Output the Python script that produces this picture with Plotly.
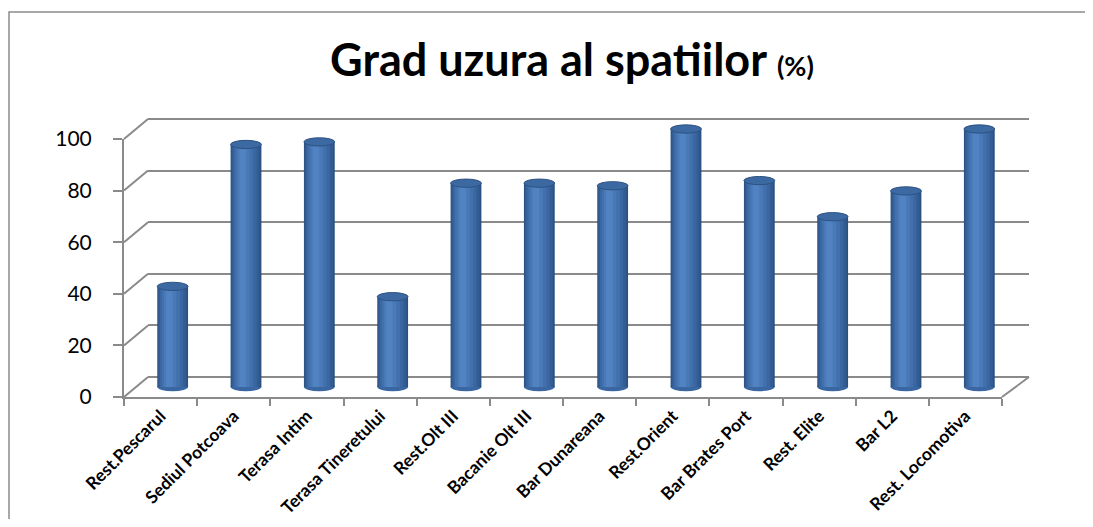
import plotly.graph_objects as go

categories = ["Rest.Pescarul", "Sediul Potcoava", "Terasa Intim", "Terasa Tineretului",
              "Rest.Olt III", "Bacanie Olt III", "Bar Dunareana", "Rest.Orient",
              "Bar Brates Port", "Rest. Elite", "Bar L2", "Rest. Locomotiva"]
values = [39, 94, 95, 35, 79, 79, 78, 100, 80, 66, 76, 100]
y_ticks = [0, 20, 40, 60, 80, 100]

# page body margin is 8px; figure sized so the page fits the window exactly
OX, OY = 8, 8
W, H = 1077, 511
PX100 = 258.0  # pixels per 100 units


def px(x):
    return (x - OX) / W


def py(y):
    return 1 - (y - OY) / H


def xd(a, b):
    return [px(a), px(b)]


def yd(p0, lo, hi):
    top = p0 - hi * PX100 / 100
    bot = p0 - lo * PX100 / 100
    return [py(bot), py(top)]


GRID = "#8a8a8a"
FONT = "Lato, Open Sans, sans-serif"
fig = go.Figure()

WALL_LO, WALL_HI = -1, 101
fig.add_trace(go.Scatter(x=[0, 1], y=[0, 0], mode="markers", marker=dict(opacity=0),
                         hoverinfo="skip", showlegend=False, xaxis="x", yaxis="y"))

BAR_LO, BAR_HI = -6, 106
n = len(categories)
idx = list(range(n))
# cylinder shading: stacked stripes (width, offset from category centre, colour)
layers = [(0.42, -0.21, "#2c5284"), (0.38, -0.195, "#335c93"),
          (0.32, -0.175, "#3a66a1"), (0.25, -0.15, "#4170ad"),
          (0.17, -0.12, "#4979b7"), (0.09, -0.09, "#5182c2")]
for w, off, col in layers:
    fig.add_trace(go.Bar(x=idx, y=values, width=w, offset=off,
                         marker=dict(color=col, line=dict(width=0)),
                         hoverinfo="skip", showlegend=False, xaxis="x2", yaxis="y2"))

fig.add_trace(go.Scatter(x=categories, y=values, mode="markers", marker=dict(opacity=0),
                         hoverinfo="skip", showlegend=False, xaxis="x3", yaxis="y3"))

shapes = []
for i, v in enumerate(values):
    shapes.append(dict(type="circle", xref="x2", yref="y2", layer="below",
                       x0=i - 0.21, x1=i + 0.21, y0=-1.6, y1=1.6,
                       fillcolor="#3a66a1", line=dict(width=0)))
    shapes.append(dict(type="circle", xref="x2", yref="y2", layer="above",
                       x0=i - 0.21, x1=i + 0.21, y0=v - 1.6, y1=v + 1.6,
                       fillcolor="#3d69a2", line=dict(color="#2c5282", width=1)))

FX0, FX1, FY0 = 124, 1002, 397
BX0, BX1, BY0 = 148, 1029, 377
for t in y_ticks:
    shapes.append(dict(type="line", xref="paper", yref="paper",
                       x0=px(FX0), y0=py(FY0 - t * PX100 / 100),
                       x1=px(BX0), y1=py(BY0 - t * PX100 / 100),
                       line=dict(color=GRID, width=2)))
shapes.append(dict(type="line", xref="paper", yref="paper",
                   x0=px(FX1), y0=py(FY0), x1=px(BX1), y1=py(BY0),
                   line=dict(color=GRID, width=2)))
shapes.append(dict(type="rect", xref="paper", yref="paper",
                   x0=px(9), x1=px(1088), y0=-0.1, y1=py(12),
                   line=dict(color="#8c8c8c", width=1.5), fillcolor="rgba(0,0,0,0)"))

fig.update_layout(
    width=W, height=H,
    margin=dict(l=0, r=0, t=0, b=0, autoexpand=False),
    paper_bgcolor="white", plot_bgcolor="rgba(0,0,0,0)",
    barmode="overlay",
    font=dict(family=FONT, color="black"),
    title=dict(text="<b>Grad uzura al spatiilor <span style='font-size:27px'>(%)</span></b>",
               x=px(572), xanchor="center", y=py(60), yanchor="middle",
               automargin=False,
               font=dict(size=45, family=FONT, color="black")),
    xaxis=dict(domain=xd(BX0, BX1), range=[0, 1], visible=False, automargin=False),
    yaxis=dict(domain=yd(BY0, WALL_LO, WALL_HI), range=[WALL_LO, WALL_HI],
               tickvals=y_ticks, showticklabels=False, ticks="", automargin=False,
               showgrid=True, gridcolor=GRID, gridwidth=2, zeroline=False, showline=False),
    xaxis2=dict(domain=xd(136, 1016), range=[-0.5, n - 0.5], visible=False,
                anchor="y2", automargin=False),
    yaxis2=dict(domain=yd(387, BAR_LO, BAR_HI), range=[BAR_LO, BAR_HI], visible=False,
                anchor="x2", automargin=False),
    xaxis3=dict(domain=xd(FX0, FX1), type="category", categoryorder="array",
                categoryarray=categories, range=[-0.5, n - 0.5], anchor="y3",
                tickson="boundaries", ticks="outside", ticklen=7, tickwidth=2,
                tickcolor=GRID, showline=True, linecolor=GRID, linewidth=2,
                showgrid=False, tickangle=-45, automargin=False,
                tickfont=dict(size=17.5, family=FONT, color="black", weight="bold")),
    yaxis3=dict(domain=yd(FY0, 0, 100), range=[0, 100], anchor="x3",
                tickvals=y_ticks, ticks="outside", ticklen=9, tickwidth=2,
                tickcolor=GRID, showline=True, linecolor=GRID, linewidth=2,
                showgrid=False, zeroline=False, ticklabelstandoff=17, automargin=False,
                tickfont=dict(size=21, family=FONT, color="black")),
    shapes=shapes,
)

fig.write_html("out.html")
